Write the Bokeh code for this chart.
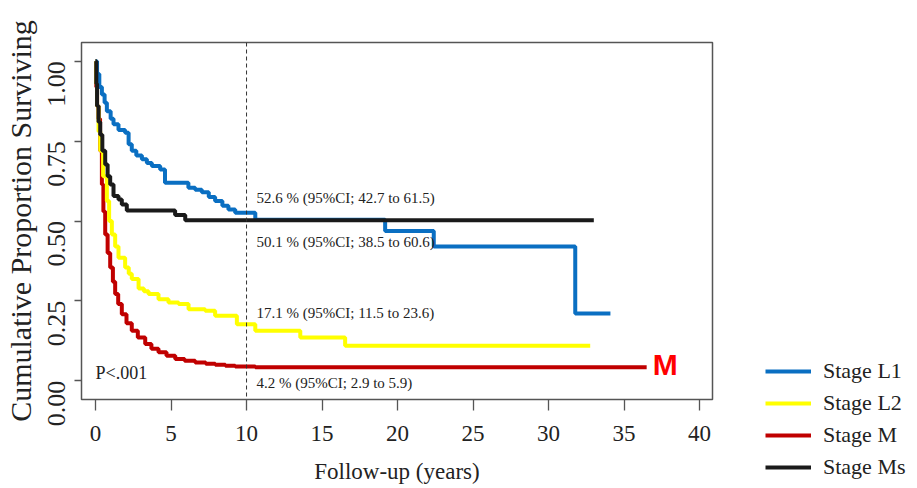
import math
from bokeh.plotting import figure
from bokeh.models import Range1d, FixedTicker, Span, Legend, LegendItem, Label, PrintfTickFormatter
from bokeh.embed import file_html
from bokeh.resources import INLINE

# ---- data ----
stage_names = ["Stage L1", "Stage L2", "Stage M", "Stage Ms"]
stage_colors = ["#0a6fc2", "#ffff00", "#c00000", "#1a1a1a"]

l1_time = [0, 0.1, 0.25, 0.42, 0.6, 0.75, 1.0, 1.19, 1.52, 1.96, 2.19, 2.4, 2.7, 3.07, 3.4,
           3.73, 4.28, 4.6, 6.15, 6.6, 7.04, 7.5, 7.92, 8.4, 8.8, 9.25, 10.58, 19.18, 22.4,
           31.77, 34.1]
l1_surv = [1.0, 0.96, 0.92, 0.896, 0.87, 0.844, 0.82, 0.803, 0.785, 0.776, 0.74, 0.72, 0.705,
           0.693, 0.682, 0.672, 0.661, 0.62, 0.604, 0.598, 0.59, 0.575, 0.5625, 0.548, 0.536,
           0.526, 0.504, 0.469, 0.42, 0.21, 0.21]

l2_time = [0, 0.05, 0.1, 0.2, 0.31, 0.5, 0.75, 0.9, 1.08, 1.3, 1.52, 1.96, 2.2, 2.4, 2.85,
           3.2, 3.51, 4.17, 4.83, 5.5, 6.16, 7.26, 7.92, 9.36, 10.58, 13.56, 16.53, 32.76]
l2_surv = [1.0, 0.93, 0.86, 0.78, 0.72, 0.64, 0.5625, 0.5, 0.458, 0.42, 0.385, 0.354, 0.335,
           0.318, 0.289, 0.28, 0.271, 0.255, 0.245, 0.24, 0.224, 0.219, 0.203, 0.177, 0.156,
           0.135, 0.109, 0.109]

m_time = [0, 0.05, 0.1, 0.2, 0.3, 0.42, 0.52, 0.64, 0.8, 0.97, 1.15, 1.3, 1.5, 1.74, 2.05,
          2.4, 2.8, 3.29, 3.7, 4.17, 4.7, 5.28, 5.9, 6.6, 7.3, 7.93, 8.6, 9.25, 10.58, 36.5]
m_surv = [1.0, 0.92, 0.86, 0.82, 0.72, 0.614, 0.53, 0.458, 0.4, 0.354, 0.31, 0.271, 0.24,
          0.208, 0.18, 0.156, 0.135, 0.115, 0.1, 0.089, 0.078, 0.068, 0.062, 0.057, 0.053,
          0.05, 0.047, 0.044, 0.042, 0.042]

ms_time = [0, 0.05, 0.1, 0.2, 0.31, 0.45, 0.64, 0.8, 0.97, 1.19, 1.52, 1.74, 2.07, 5.27,
           5.94, 33.0]
ms_surv = [1.0, 0.93, 0.86, 0.81, 0.77, 0.72, 0.677, 0.64, 0.614, 0.578, 0.567, 0.552,
           0.533, 0.519, 0.502, 0.502]

x_ticks = [0, 5, 10, 15, 20, 25, 30, 35, 40]
y_ticks = [0.0, 0.25, 0.5, 0.75, 1.0]
landmark_year = 10

annot_texts = ["52.6 % (95%CI; 42.7 to 61.5)", "50.1 % (95%CI; 38.5 to 60.6)",
               "17.1 % (95%CI; 11.5 to 23.6)", "4.2 % (95%CI; 2.9 to 5.9)"]
annot_x = 10.66
annot_y = [0.572, 0.434, 0.2125, -0.006]
p_text = "P<.001"
m_text = "M"

SERIF = "Liberation Serif"
INK = "#222222"

p = figure(frame_width=631, frame_height=357, min_border_left=78, min_border_top=42,
           min_border_bottom=87, min_border_right=200,
           x_range=Range1d(-0.93, 40.86), y_range=Range1d(-0.059, 1.059),
           output_backend="svg", toolbar_location=None)
p.grid.visible = False
p.outline_line_color = "#555555"
p.outline_line_width = 1.5
p.background_fill_color = "white"
p.border_fill_color = "white"

for ax in (p.xaxis[0], p.yaxis[0]):
    ax.axis_line_color = None
    ax.major_tick_line_color = "#555555"
    ax.major_tick_line_width = 1.3
    ax.major_tick_in = 0
    ax.minor_tick_line_color = None
    ax.major_label_text_font = SERIF
    ax.major_label_text_color = INK
    ax.axis_label_text_font = SERIF
    ax.axis_label_text_font_style = "normal"
    ax.axis_label_text_color = INK

p.xaxis.ticker = FixedTicker(ticks=x_ticks)
p.xaxis.major_tick_out = 11
p.xaxis.major_label_text_font_size = "23px"
p.xaxis.major_label_standoff = 15
p.xaxis.axis_label = "Follow-up (years)"
p.xaxis.axis_label_text_font_size = "23px"
p.xaxis.axis_label_standoff = 15

p.yaxis.ticker = FixedTicker(ticks=y_ticks)
p.yaxis.formatter = PrintfTickFormatter(format="%.2f")
p.yaxis.major_tick_out = 7
p.yaxis.major_label_orientation = math.pi / 2
p.yaxis.major_label_text_font_size = "26px"
p.yaxis.major_label_standoff = 18
p.yaxis.axis_label = "Cumulative Proportion Surviving"
p.yaxis.axis_label_text_font_size = "30px"
p.yaxis.axis_label_standoff = 0

p.add_layout(Span(location=landmark_year, dimension="height", line_color="#333333",
                  line_width=1, line_dash="4 3"))

r_m = p.step(m_time, m_surv, mode="after", line_width=4, line_color=stage_colors[2])
r_l2 = p.step(l2_time, l2_surv, mode="after", line_width=4, line_color=stage_colors[1])
r_l1 = p.step(l1_time, l1_surv, mode="after", line_width=4, line_color=stage_colors[0])
r_ms = p.step(ms_time, ms_surv, mode="after", line_width=4, line_color=stage_colors[3])

for txt, yy in zip(annot_texts, annot_y):
    p.add_layout(Label(x=annot_x, y=yy, text=txt, text_font=SERIF, text_font_size="15px",
                       text_baseline="middle", text_align="left", text_color=INK))
p.add_layout(Label(x=0, y=0.025, text=p_text, text_font=SERIF, text_font_size="18px",
                   text_baseline="middle", text_align="left", text_color=INK))
p.add_layout(Label(x=36.9, y=0.052, text=m_text, text_font="Liberation Sans",
                   text_font_style="bold", text_font_size="30px", text_baseline="middle",
                   text_align="left", text_color="#ff0000"))

legend = Legend(items=[LegendItem(label=stage_names[0], renderers=[r_l1]),
                       LegendItem(label=stage_names[1], renderers=[r_l2]),
                       LegendItem(label=stage_names[2], renderers=[r_m]),
                       LegendItem(label=stage_names[3], renderers=[r_ms])],
                location=(53, -84), glyph_width=46, glyph_height=32, label_height=32,
                spacing=0, padding=0, margin=0, label_standoff=12,
                label_text_font=SERIF, label_text_font_size="22px", label_text_color=INK,
                label_text_baseline="middle",
                border_line_color=None, background_fill_alpha=0)
p.add_layout(legend, "right")

open("out.html", "w").write(file_html(p, INLINE))
